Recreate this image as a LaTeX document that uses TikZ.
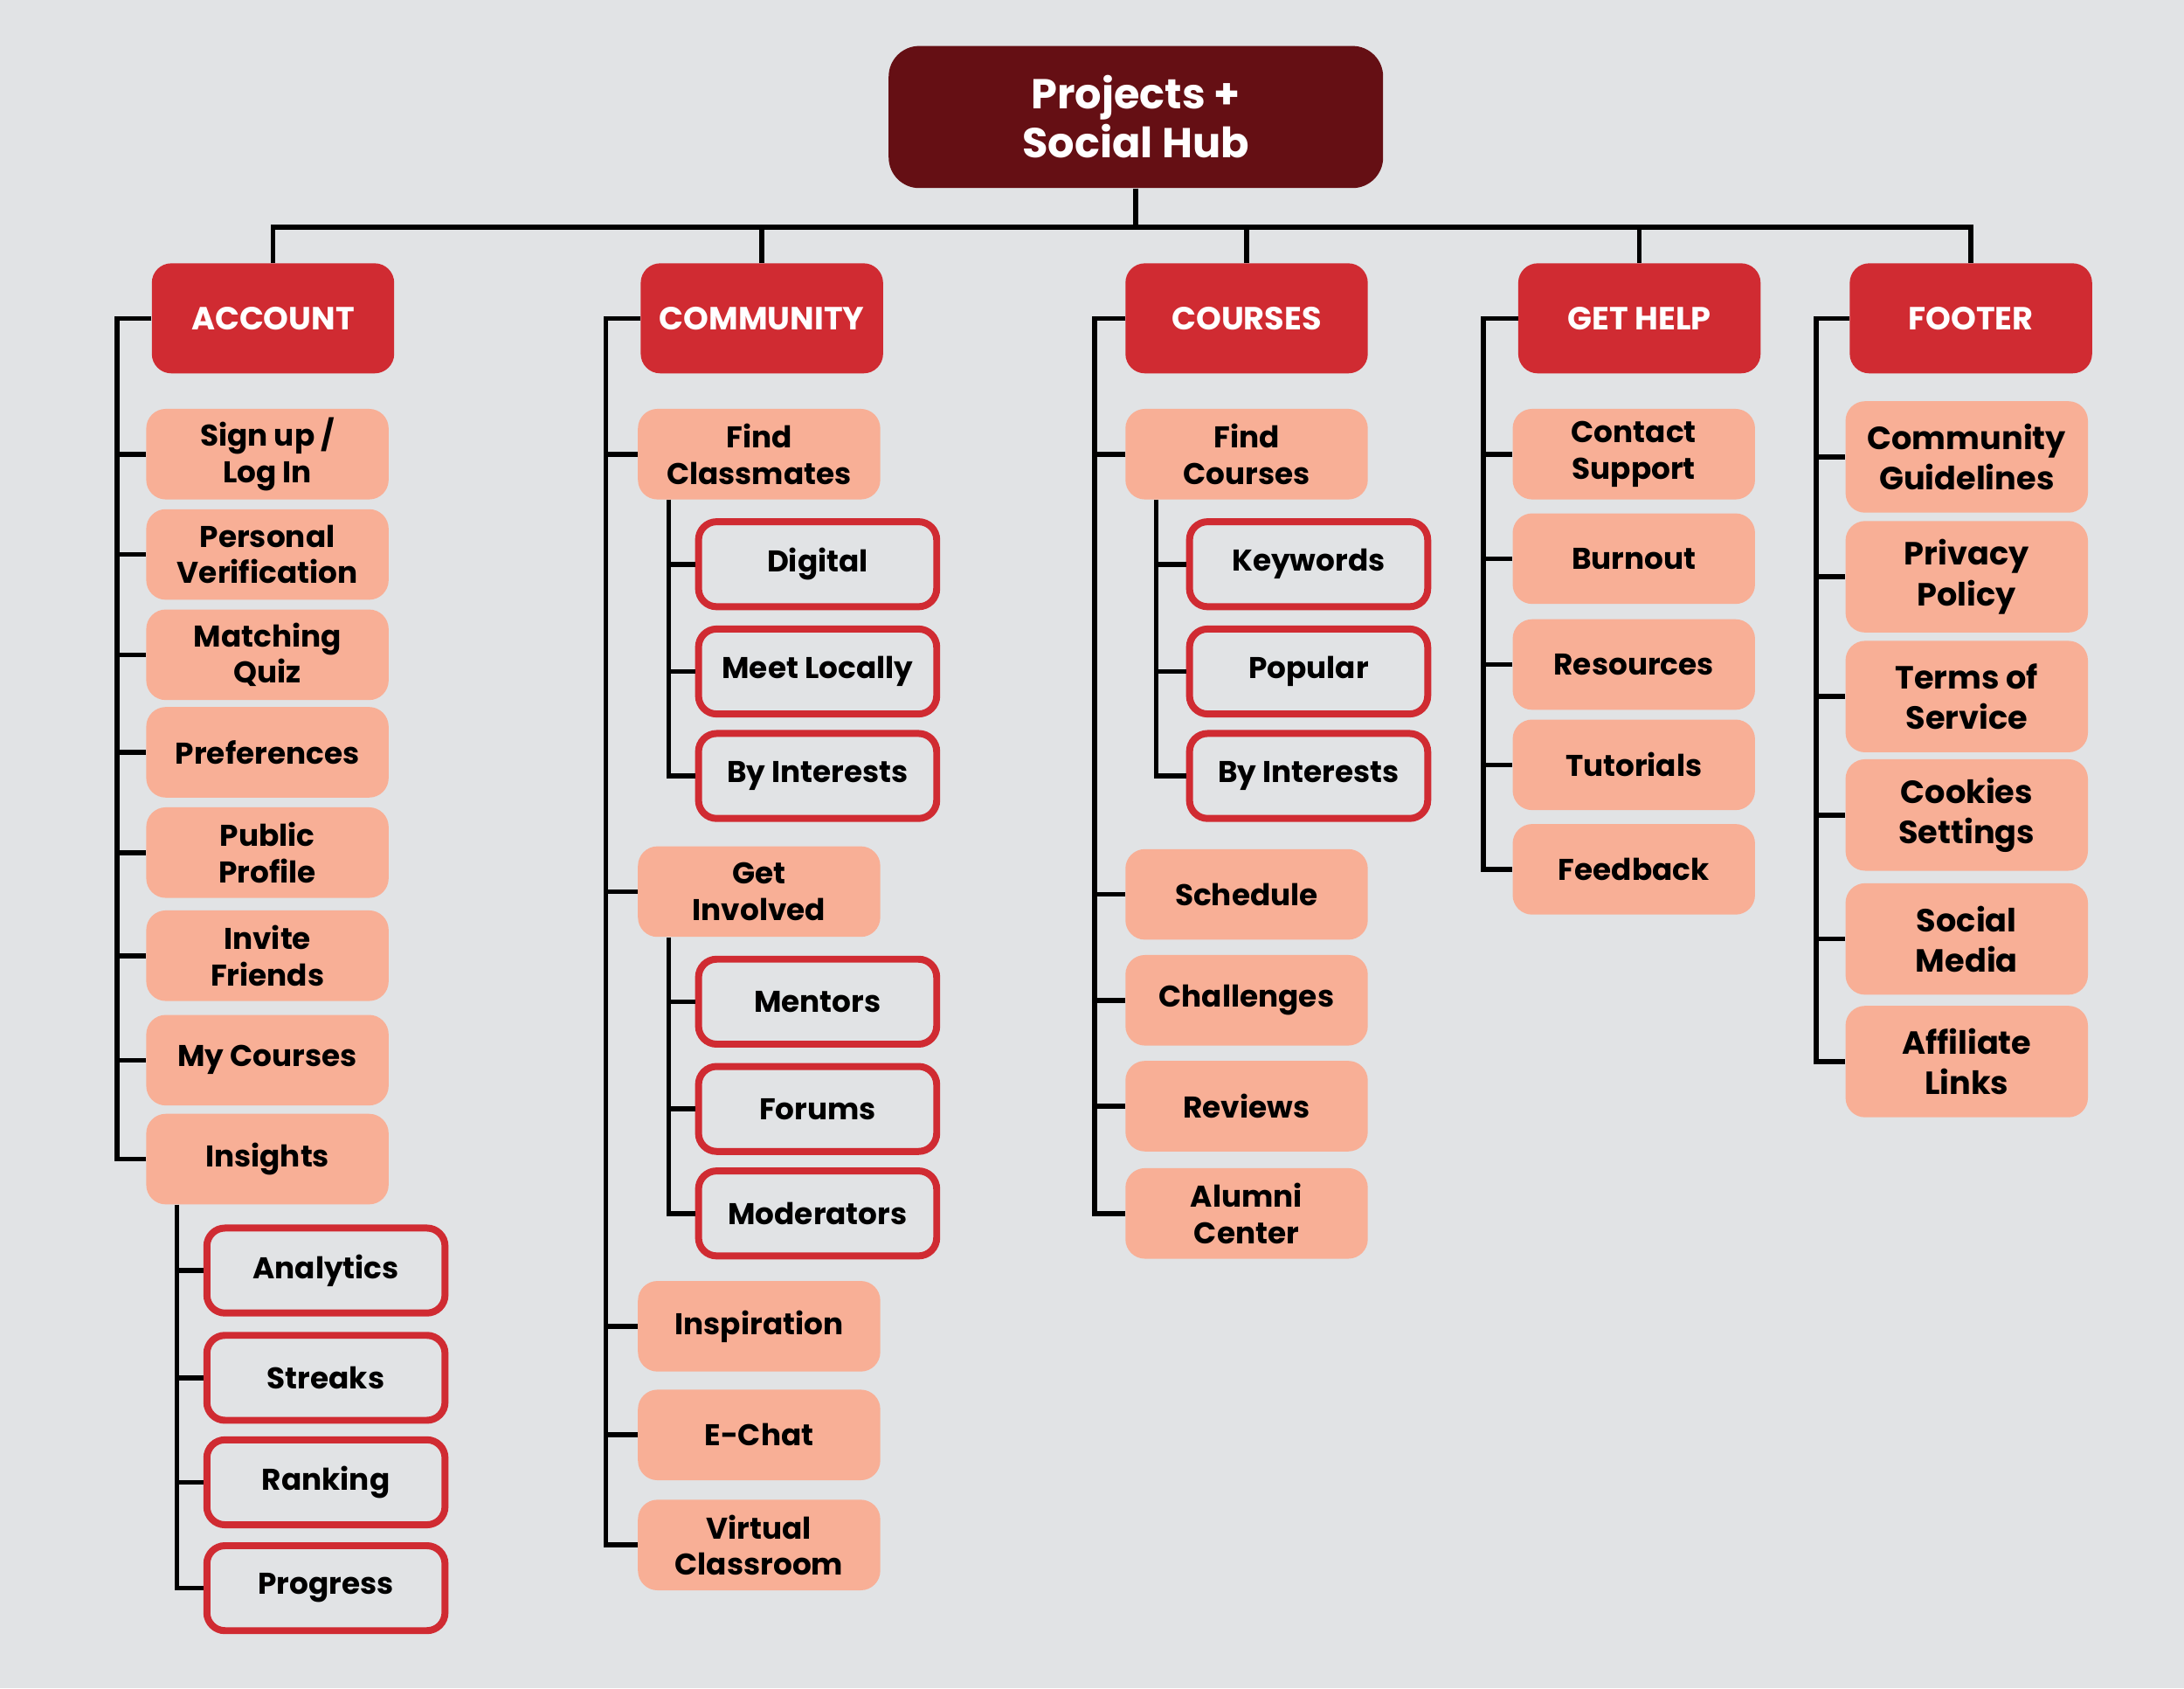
\documentclass[tikz,border=0pt]{standalone}
\usepackage{fontspec}
\setmainfont{Poppins}
\usetikzlibrary{positioning}
\definecolor{bg}{HTML}{E1E3E5}
\definecolor{hubred}{HTML}{650F14}
\definecolor{secred}{HTML}{D02B32}
\definecolor{salmon}{HTML}{F8AF96}
\tikzset{
  hub/.style={fill=hubred, text=white, rounded corners=22pt, minimum width=355pt, minimum height=102pt,
    align=center, inner sep=0pt, font=\fontsize{30}{35}\selectfont\bfseries},
  sect/.style={fill=secred, text=white, rounded corners=14pt, minimum width=174pt, minimum height=79pt,
    inner sep=0pt, font=\fontsize{23}{26}\selectfont\bfseries},
  item/.style={fill=salmon, rounded corners=14pt, minimum width=174pt, minimum height=65pt,
    align=center, inner sep=0pt, font=\fontsize{21.5}{26}\selectfont\bfseries},
  tall/.style={item, minimum height=80pt, font=\fontsize{23}{29}\selectfont\bfseries},
  sub/.style={draw=secred, line width=5pt, fill=bg, rounded corners=13pt, minimum width=171pt,
    minimum height=61pt, inner sep=0pt, font=\fontsize{21.5}{26}\selectfont\bfseries},
  link/.style={line width=3.5pt, black}
}
\begin{document}
\begin{tikzpicture}[x=1pt,y=-1pt]
  \fill[bg] (0,0) rectangle (1568,1212);
  \useasboundingbox (0,0) rectangle (1568,1212);
  % top of the tree
  \node[hub] (root) at (815.5,84) {Projects +\\Social Hub};
  \node[sect] (acc) at (196,228.5) {ACCOUNT};
  \node[sect] (com) at (547,228.5) {COMMUNITY};
  \node[sect] (cou) at (895,228.5) {COURSES};
  \node[sect] (hlp) at (1177,228.5) {GET HELP};
  \node[sect] (foot) at (1415,228.5) {FOOTER};
  % account
  \node[item] (a1) at (192,326) {Sign up /\\Log In};
  \node[item] (a2) at (192,398) {Personal\\Verification};
  \node[item] (a3) at (192,470) {Matching\\Quiz};
  \node[item] (a4) at (192,540) {Preferences};
  \node[item] (a5) at (192,612) {Public\\Profile};
  \node[item] (a6) at (192,686) {Invite\\Friends};
  \node[item] (a7) at (192,761) {My Courses};
  \node[item] (a8) at (192,832) {Insights};
  \node[sub] (s1) at (234,912) {Analytics};
  \node[sub] (s2) at (234,989) {Streaks};
  \node[sub] (s3) at (234,1064) {Ranking};
  \node[sub] (s4) at (234,1140) {Progress};
  % community
  \node[item] (c1) at (545,326) {Find\\Classmates};
  \node[item] (c2) at (545,640) {Get\\Involved};
  \node[item] (c3) at (545,952) {Inspiration};
  \node[item] (c4) at (545,1030) {E-Chat};
  \node[item] (c5) at (545,1109) {Virtual\\Classroom};
  \node[sub] (cd1) at (587,405) {Digital};
  \node[sub] (cd2) at (587,482) {Meet Locally};
  \node[sub] (cd3) at (587,557) {By Interests};
  \node[sub] (cg1) at (587,719) {Mentors};
  \node[sub] (cg2) at (587,796) {Forums};
  \node[sub] (cg3) at (587,871) {Moderators};
  % courses
  \node[item] (k1) at (895,326) {Find\\Courses};
  \node[item] (k2) at (895,642) {Schedule};
  \node[item] (k3) at (895,718) {Challenges};
  \node[item] (k4) at (895,794) {Reviews};
  \node[item] (k5) at (895,871) {Alumni\\Center};
  \node[sub] (kf1) at (939.5,405) {Keywords};
  \node[sub] (kf2) at (939.5,482) {Popular};
  \node[sub] (kf3) at (939.5,557) {By Interests};
  % get help
  \node[item] (h1) at (1173,326) {Contact\\Support};
  \node[item] (h2) at (1173,401) {Burnout};
  \node[item] (h3) at (1173,477) {Resources};
  \node[item] (h4) at (1173,549) {Tutorials};
  \node[item] (h5) at (1173,624) {Feedback};
  % footer
  \node[tall] (f1) at (1412,328) {Community\\Guidelines};
  \node[tall] (f2) at (1412,414) {Privacy\\Policy};
  \node[tall] (f3) at (1412,500) {Terms of\\Service};
  \node[tall] (f4) at (1412,585) {Cookies\\Settings};
  \node[tall] (f5) at (1412,674) {Social\\Media};
  \node[tall] (f6) at (1412,762) {Affiliate\\Links};
  % bus
  \coordinate (bus) at (0,163);
  \draw[link] (root.south) -- (root.south |- bus);
  \draw[link] (acc.north) -- (acc.north |- bus) -- (foot.north |- bus) -- (foot.north);
  \foreach \h in {com,cou,hlp} \draw[link] (\h.north) -- (\h.north |- bus);
  % spines
  \coordinate (accX) at (84,0);  \coordinate (insX) at (127,0);
  \coordinate (comX) at (435,0); \coordinate (cgX) at (480,0);
  \coordinate (couX) at (786,0); \coordinate (kfX) at (830,0);
  \coordinate (hlpX) at (1065,0); \coordinate (footX) at (1304,0);
  \draw[link] (acc.west) -| (a8.west -| accX) -- (a8.west);
  \foreach \n in {a1,a2,a3,a4,a5,a6,a7} \draw[link] (\n.west -| accX) -- (\n.west);
  \draw[link] (a8.south -| insX) |- (s4.west);
  \foreach \n in {s1,s2,s3} \draw[link] (\n.west -| insX) -- (\n.west);
  \draw[link] (com.west) -| (c5.west -| comX) -- (c5.west);
  \foreach \n in {c1,c2,c3,c4} \draw[link] (\n.west -| comX) -- (\n.west);
  \draw[link] (c1.south -| cgX) |- (cd3.west);
  \foreach \n in {cd1,cd2} \draw[link] (\n.west -| cgX) -- (\n.west);
  \draw[link] (c2.south -| cgX) |- (cg3.west);
  \foreach \n in {cg1,cg2} \draw[link] (\n.west -| cgX) -- (\n.west);
  \draw[link] (cou.west) -| (k5.west -| couX) -- (k5.west);
  \foreach \n in {k1,k2,k3,k4} \draw[link] (\n.west -| couX) -- (\n.west);
  \draw[link] (k1.south -| kfX) |- (kf3.west);
  \foreach \n in {kf1,kf2} \draw[link] (\n.west -| kfX) -- (\n.west);
  \draw[link] (hlp.west) -| (h5.west -| hlpX) -- (h5.west);
  \foreach \n in {h1,h2,h3,h4} \draw[link] (\n.west -| hlpX) -- (\n.west);
  \draw[link] (foot.west) -| (f6.west -| footX) -- (f6.west);
  \foreach \n in {f1,f2,f3,f4,f5} \draw[link] (\n.west -| footX) -- (\n.west);
\end{tikzpicture}
\end{document}
